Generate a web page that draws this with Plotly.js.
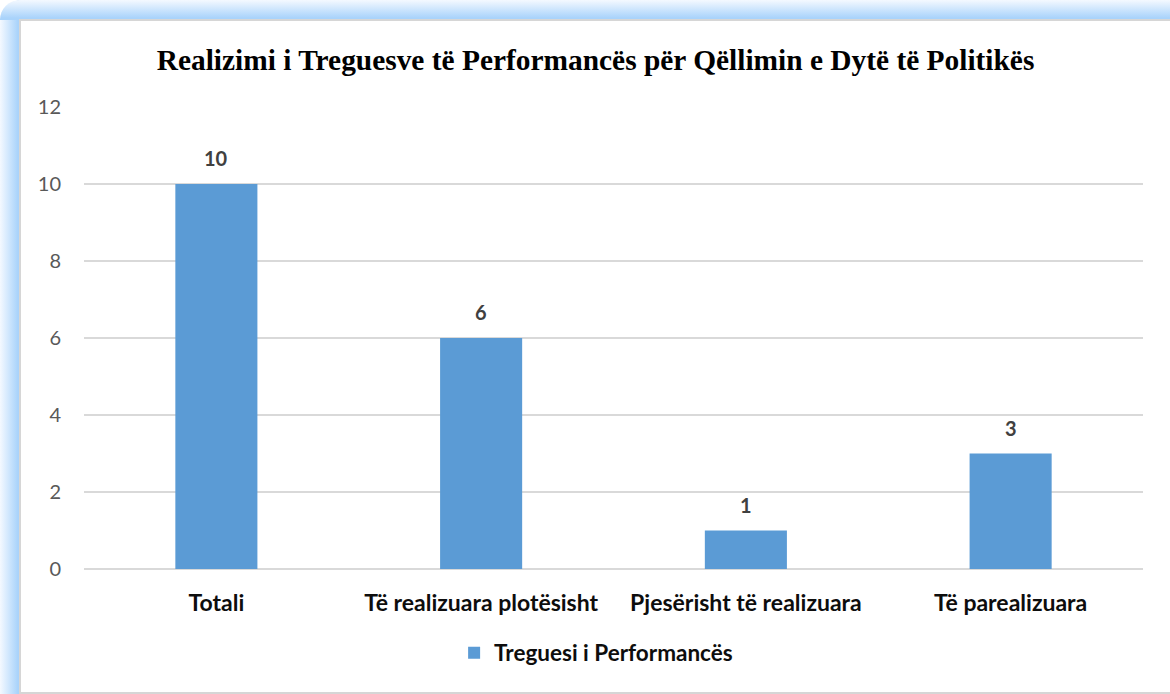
<!DOCTYPE html>
<html>
<head>
<meta charset="utf-8">
<script src="https://cdn.plot.ly/plotly-3.0.1.min.js"></script>
<style>
  html, body { margin: 0; padding: 0; background: #ffffff; width: 1170px; height: 694px; overflow: hidden; }
  #glow { position: absolute; left: 0; top: 0; width: 1200px; height: 720px;
          background: linear-gradient(to right, #f4f9ff 0px, #a9d3fb 18px, #a9d3fb 100%); border-top-left-radius: 22px; }
  #glowtop { position: absolute; left: 0; top: 0; width: 1200px; height: 20px;
          background: linear-gradient(to bottom, #f4f9ff 0px, #a9d3fb 18px); border-top-left-radius: 22px; }
  #frame { position: absolute; left: 19px; top: 19px; width: 1170px; height: 671px;
           background: #ffffff; border: 2px solid #d6d6d6; }
  #chart { position: absolute; left: 0; top: 0; width: 1170px; height: 694px; }
</style>
</head>
<body>
<div id="glow"></div>
<div id="glowtop"></div>
<div id="frame"></div>
<div id="chart"></div>
<script>
const categories = ["Totali", "Të realizuara plotësisht", "Pjesërisht të realizuara", "Të parealizuara"];
const values = [10, 6, 1, 3];
const seriesName = "Treguesi i Performancës";
const chartTitle = "Realizimi i Treguesve të Performancës për Qëllimin e Dytë të Politikës";
const yTicks = [0, 2, 4, 6, 8, 10, 12];

const sans = "Lato, 'Open Sans', sans-serif";

const trace = {
  type: "bar",
  x: categories,
  y: values,
  name: seriesName,
  marker: { color: "#5b9bd5" },
  width: 0.31,
  showlegend: true
};

const labelAnnotations = categories.map((c, i) => ({
  x: c,
  y: values[i],
  xref: "x",
  yref: "y",
  text: "<b>" + values[i] + "</b>",
  showarrow: false,
  yanchor: "bottom",
  yshift: 12,
  font: { family: sans, size: 20, color: "#404040" }
}));

const layout = {
  width: 1170,
  height: 694,
  paper_bgcolor: "rgba(0,0,0,0)",
  plot_bgcolor: "rgba(0,0,0,0)",
  margin: { l: 84, r: 27, t: 107, b: 125, pad: 0 },
  title: {
    text: "<b>" + chartTitle + "</b>",
    font: { family: "'Liberation Serif', 'Times New Roman', serif", size: 29.4, color: "#000000" },
    xref: "container", x: 0.509, xanchor: "center",
    yref: "container", y: 1 - 60/694, yanchor: "middle"
  },
  xaxis: {
    type: "category",
    tickfont: { family: sans, size: 23, color: "#0d0d0d", weight: "bold" },
    showgrid: false,
    showline: false,
    zeroline: false,
    ticks: "",
    ticklabelstandoff: 18
  },
  yaxis: {
    range: [0, 12],
    tickvals: yTicks,
    ticktext: yTicks.map(String),
    tickfont: { family: sans, size: 20, color: "#595959" },
    showgrid: true,
    gridcolor: "#d9d9d9",
    gridwidth: 1.5,
    zeroline: true,
    zerolinecolor: "#d9d9d9",
    zerolinewidth: 1.5,
    showline: false,
    ticks: "",
    ticklabelstandoff: 22
  },
  annotations: labelAnnotations,
  showlegend: true,
  legend: {
    orientation: "h",
    xref: "container", x: 0.5095, xanchor: "center",
    yref: "container", y: 1 - 653/694, yanchor: "middle",
    font: { family: sans, size: 22.5, color: "#0d0d0d", weight: "bold" },
    itemwidth: 30,
    bgcolor: "rgba(0,0,0,0)"
  },
  bargap: 0.69
};

Plotly.newPlot("chart", [trace], layout, { displayModeBar: false, staticPlot: true });
</script>
</body>
</html>
